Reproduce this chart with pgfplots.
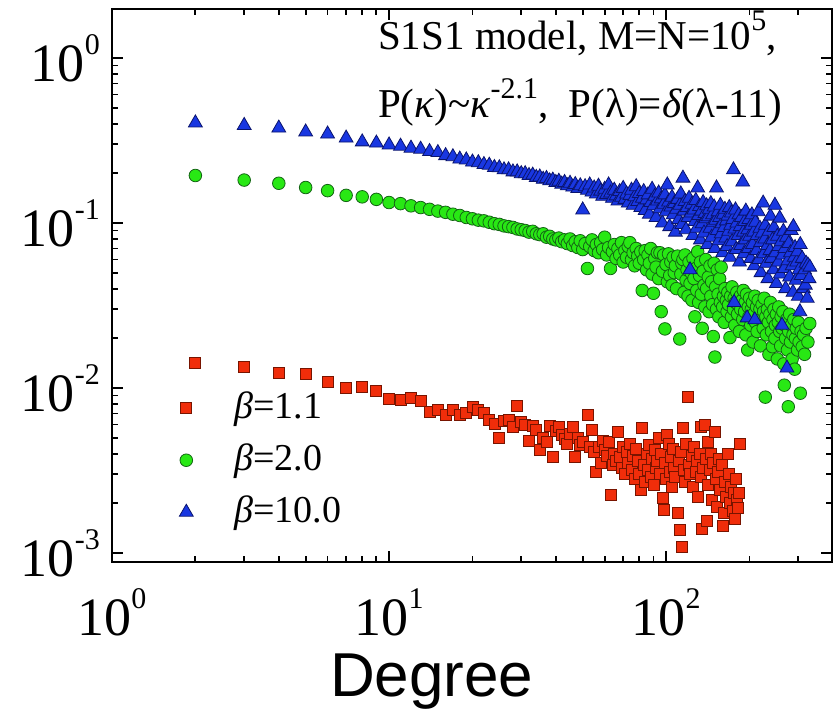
\documentclass[border=0pt]{standalone}
\usepackage{fontspec}
\setmainfont{Liberation Serif}
\newfontfamily\arialfont{Liberation Sans}
\usepackage{pgfplots}
\usepackage{pgfplotstable}
\pgfplotsset{compat=1.18}
\definecolor{rfill}{RGB}{240,45,10}
\definecolor{redge}{RGB}{120,20,0}
\definecolor{gfill}{RGB}{40,232,20}
\definecolor{gedge}{RGB}{20,100,20}
\definecolor{bfill}{RGB}{25,55,225}
\definecolor{bedge}{RGB}{10,20,110}
\newcommand{\tl}[1]{\mbox{\fontsize{54}{60}\selectfont 10\raisebox{27pt}{\fontsize{30}{30}\selectfont #1}}}

\pgfplotstableread{
k v
2 0.0142
3 0.0134
4 0.0123
5 0.0122
6 0.0109
7 0.0100
8 0.0101
9 0.0096
10 0.0086
11 0.0085
12 0.0087
13 0.0083
14 0.0072
15 0.0074
16 0.0069
17 0.0074
18 0.0069
19 0.0071
20 0.0077
21 0.0074
22 0.0071
23 0.0064
24 0.0061
25 0.0050
26 0.0063
27 0.0064
28 0.0058
29 0.0078
30 0.0062
31 0.0060
32 0.0048
33 0.0059
34 0.0056
35 0.0042
36 0.0050
37 0.0047
38 0.0059
39 0.0038
40 0.0055
41 0.0058
42 0.0052
43 0.0049
44 0.0046
45 0.0053
46 0.0058
47 0.0038
48 0.0050
49 0.0045
50 0.0047
52 0.0069
53 0.0044
54 0.0056
55 0.0041
56 0.0031
57 0.0044
58 0.0035
59 0.0048
60 0.0042
61 0.0039
62 0.0047
63 0.00225
64 0.0034
65 0.0040
66 0.0036
67 0.0054
68 0.0038
69 0.0033
70 0.0044
71 0.0030
72 0.0041
73 0.0035
74 0.0046
75 0.0032
76 0.0039
77 0.0028
78 0.0043
79 0.0036
80 0.0030
81 0.0024
82 0.0057
83 0.0034
84 0.0027
85 0.0040
86 0.0032
87 0.0045
88 0.0029
89 0.0037
90 0.0026
91 0.0042
92 0.0033
93 0.0036
94 0.0050
95 0.0030
96 0.0040
97 0.00217
98 0.00182
99 0.0035
100 0.0028
101 0.0052
102 0.0046
103 0.0031
104 0.0038
105 0.0025
106 0.0043
107 0.0033
108 0.0029
110 0.00175
111 0.0036
112 0.00138
113 0.0041
114 0.00109
115 0.0057
116 0.0032
117 0.0027
118 0.0046
120 0.0088
121 0.0034
122 0.0030
124 0.0039
125 0.0025
126 0.0044
128 0.0031
129 0.0036
130 0.0022
132 0.0040
133 0.0058
134 0.0029
135 0.0014
136 0.0033
138 0.0060
139 0.0037
140 0.00157
141 0.0047
142 0.0026
144 0.0032
145 0.0040
146 0.0021
148 0.0035
150 0.0054
151 0.0028
152 0.0019
154 0.0031
155 0.0037
157 0.0024
159 0.0034
160 0.00146
161 0.00175
163 0.0027
165 0.0022
167 0.0040
168 0.0030
170 0.0020
172 0.0025
174 0.0018
175 0.0023
177 0.00162
178 0.0028
180 0.0021
182 0.00188
183 0.0023
185 0.0046
}\redtab

\pgfplotstableread{
k v
2 0.194
3 0.182
4 0.174
5 0.164
6 0.157
7 0.147
8 0.144
9 0.139
10 0.133
11 0.131
12 0.127
13 0.124
14 0.121
15 0.118
16 0.116
17 0.113
18 0.111
19 0.108
20 0.106
21 0.104
22 0.103
23 0.101
24 0.099
25 0.098
26 0.096
27 0.095
28 0.094
29 0.092
30 0.091
31 0.090
32 0.088
33 0.089
34 0.086
35 0.085
36 0.086
37 0.082
38 0.083
39 0.080
40 0.079
41 0.081
42 0.077
43 0.079
44 0.075
45 0.080
46 0.073
47 0.077
48 0.071
49 0.078
50 0.069
51 0.075
52 0.053
53 0.072
54 0.079
55 0.068
56 0.074
57 0.066
58 0.076
59 0.069
60 0.082
61 0.064
62 0.071
63 0.053
64 0.067
65 0.074
66 0.061
67 0.070
68 0.064
69 0.076
70 0.058
71 0.068
72 0.062
73 0.072
74 0.076
75 0.060
76 0.066
77 0.055
78 0.070
79 0.063
80 0.057
81 0.067
82 0.039
83 0.060
84 0.068
85 0.052
86 0.064
87 0.057
88 0.070
89 0.049
90 0.0375
91 0.061
92 0.054
93 0.066
94 0.046
95 0.066
96 0.029
97 0.051
98 0.064
99 0.0228
100 0.056
101 0.044
102 0.065
103 0.048
104 0.058
105 0.042
106 0.062
107 0.050
108 0.055
109 0.040
110 0.063
112 0.0198
113 0.049
114 0.057
115 0.060
116 0.038
117 0.064
118 0.045
119 0.052
120 0.036
121 0.058
122 0.043
123 0.050
124 0.034
125 0.061
126 0.046
127 0.027
128 0.053
129 0.039
130 0.067
131 0.033
132 0.048
133 0.058
134 0.037
135 0.023
136 0.051
137 0.042
138 0.031
139 0.060
140 0.040
142 0.047
143 0.029
144 0.055
145 0.036
146 0.044
147 0.032
148 0.0205
149 0.057
150 0.0154
151 0.041
152 0.030
153 0.052
154 0.037
155 0.027
156 0.046
157 0.033
158 0.054
160 0.031
161 0.036
162 0.025
163 0.040
165 0.034
166 0.029
167 0.038
168 0.032
170 0.0202
171 0.036
172 0.027
173 0.041
175 0.030
176 0.035
177 0.024
178 0.033
180 0.038
181 0.028
182 0.032
184 0.022
185 0.036
186 0.030
188 0.034
189 0.026
190 0.039
192 0.029
193 0.033
194 0.021
195 0.037
197 0.017
198 0.031
199 0.027
200 0.035
202 0.024
203 0.030
205 0.033
206 0.019
207 0.028
209 0.036
210 0.025
212 0.031
213 0.022
215 0.034
216 0.027
218 0.030
219 0.018
220 0.026
222 0.032
224 0.023
225 0.029
226 0.035
228 0.0088
229 0.027
230 0.021
232 0.030
234 0.025
235 0.016
237 0.028
238 0.033
240 0.022
242 0.0178
243 0.026
245 0.030
247 0.020
248 0.024
250 0.028
252 0.015
254 0.025
255 0.031
257 0.022
259 0.018
260 0.027
262 0.023
264 0.029
266 0.014
267 0.0104
268 0.024
270 0.020
272 0.026
274 0.017
276 0.0077
277 0.022
279 0.028
281 0.019
283 0.024
285 0.015
287 0.021
289 0.026
291 0.013
293 0.020
295 0.023
298 0.017
300 0.025
302 0.019
305 0.0093
307 0.022
310 0.0178
313 0.021
316 0.016
320 0.023
325 0.019
330 0.0246
}\greentab

\pgfplotstableread{
k v
2 0.404
3 0.390
4 0.376
5 0.356
6 0.346
7 0.327
8 0.310
9 0.305
10 0.297
11 0.292
12 0.284
13 0.280
14 0.271
15 0.267
16 0.256
17 0.252
18 0.244
19 0.241
20 0.234
21 0.232
22 0.226
23 0.224
24 0.217
25 0.216
26 0.210
27 0.210
28 0.204
29 0.204
30 0.199
31 0.199
32 0.194
33 0.195
34 0.189
35 0.190
36 0.184
37 0.186
38 0.180
39 0.182
40 0.176
41 0.179
42 0.172
43 0.176
44 0.168
45 0.174
46 0.165
47 0.171
48 0.162
49 0.168
50 0.120
51 0.166
52 0.158
53 0.170
54 0.154
55 0.163
56 0.150
57 0.167
58 0.156
59 0.145
60 0.160
61 0.149
62 0.170
63 0.152
64 0.141
65 0.158
66 0.146
67 0.136
68 0.155
69 0.143
70 0.162
71 0.139
72 0.150
73 0.132
74 0.147
75 0.158
76 0.128
77 0.144
78 0.166
79 0.135
80 0.151
81 0.124
82 0.141
83 0.155
84 0.119
85 0.138
86 0.148
87 0.113
88 0.133
89 0.160
90 0.127
91 0.145
92 0.108
93 0.136
94 0.152
95 0.122
96 0.140
97 0.100
98 0.130
99 0.148
100 0.117
101 0.170
102 0.134
103 0.095
104 0.125
105 0.143
106 0.112
107 0.131
108 0.088
109 0.121
110 0.139
111 0.105
112 0.128
113 0.150
114 0.098
115 0.187
116 0.118
117 0.135
118 0.091
119 0.124
120 0.108
121 0.141
122 0.052
123 0.115
124 0.130
125 0.084
126 0.120
127 0.102
128 0.137
129 0.093
130 0.163
131 0.111
132 0.126
133 0.079
134 0.118
135 0.099
136 0.133
137 0.087
138 0.114
139 0.106
140 0.127
141 0.074
142 0.109
143 0.121
144 0.093
145 0.131
146 0.082
147 0.112
148 0.101
149 0.125
150 0.070
151 0.104
152 0.163
153 0.090
154 0.117
155 0.078
156 0.108
157 0.128
158 0.086
159 0.099
160 0.066
161 0.113
162 0.094
163 0.121
164 0.081
165 0.103
166 0.072
167 0.110
168 0.089
169 0.124
170 0.062
171 0.097
172 0.115
173 0.077
174 0.105
175 0.210
176 0.033
177 0.092
178 0.120
179 0.069
180 0.100
182 0.084
183 0.112
184 0.058
185 0.095
186 0.073
187 0.108
189 0.177
190 0.088
191 0.065
192 0.102
193 0.079
194 0.118
196 0.0266
197 0.091
198 0.070
199 0.105
200 0.083
202 0.061
203 0.097
204 0.112
205 0.074
207 0.088
208 0.055
209 0.0259
210 0.101
212 0.068
213 0.084
215 0.117
216 0.060
218 0.093
219 0.076
220 0.050
222 0.087
224 0.132
225 0.065
227 0.080
228 0.097
230 0.057
232 0.073
233 0.046
235 0.089
237 0.068
238 0.110
240 0.061
242 0.079
244 0.052
245 0.094
247 0.128
248 0.066
250 0.043
252 0.083
254 0.058
255 0.072
257 0.107
258 0.049
260 0.077
262 0.024
263 0.064
265 0.089
267 0.053
268 0.070
270 0.040
272 0.082
273 0.0132
275 0.059
277 0.075
279 0.047
281 0.066
283 0.090
285 0.055
287 0.038
288 0.095
290 0.062
292 0.071
294 0.045
296 0.058
298 0.067
300 0.036
302 0.052
304 0.029
305 0.074
307 0.048
310 0.061
313 0.040
316 0.052
318 0.042
320 0.057
323 0.035
325 0.0556
328 0.046
330 0.054
}\bluetab

\begin{document}
\begin{tikzpicture}
\path[use as bounding box] (-112pt,-150pt) rectangle (726pt,562pt);
\begin{axis}[
  scale only axis, width=720pt, height=553pt,
  xmode=log, ymode=log,
  xmin=1, xmax=397, ymin=8.82e-4, ymax=1.98,
  xtick={1,10,100}, xticklabels={\tl{0},\tl{1},\tl{2}},
  ytick={0.001,0.01,0.1,1}, yticklabels={\tl{-3},\tl{-2},\tl{-1},\tl{0}},
  minor xtick={2,3,4,5,6,7,8,9,20,30,40,50,60,70,80,90,200,300},
  minor ytick={0.002,0.003,0.004,0.005,0.006,0.007,0.008,0.009,0.02,0.03,0.04,0.05,0.06,0.07,0.08,0.09,0.2,0.3,0.4,0.5,0.6,0.7,0.8,0.9},
  tick align=inside,
  major tick length=11pt, minor tick length=6pt,
  every tick/.append style={line width=1.8pt, black},
  axis line style={line width=2.6pt},
  tick label style={font=\fontsize{54}{60}\selectfont},
  xticklabel style={anchor=base, inner sep=0pt, yshift=-73pt},
  yticklabel style={anchor=east, inner sep=0pt, xshift=-12pt},
  xlabel={Degree},
  xlabel style={font=\arialfont\fontsize{62}{62}\selectfont, at={(axis description cs:0.444,-0.244)}, anchor=base},
  legend style={at={(0.0933,0.3146)}, anchor=north west, draw=none, fill=none, inner sep=0pt,
    font=\fontsize{38}{40}\selectfont, row sep=12pt,
    nodes={inner sep=0pt, text height=30pt, text depth=10pt},
    /tikz/every odd column/.append style={column sep=41pt}},
  legend cell align=left,
]
\addplot[only marks, mark=square*, mark size=5.5pt, draw=redge, fill=rfill, mark options={line width=0.8pt}] table[x=k,y=v] {\redtab};
\addlegendentry{\textit{β}=1.1}
\addplot[only marks, mark=*, mark size=6.3pt, draw=gedge, fill=gfill, mark options={line width=0.8pt}] table[x=k,y=v] {\greentab};
\addlegendentry{\textit{β}=2.0}
\addplot[only marks, mark=triangle*, mark size=8pt, draw=bedge, fill=bfill, mark options={line width=0.8pt}] table[x=k,y=v] {\bluetab};
\addlegendentry{\textit{β}=10.0}
\node[anchor=base west, inner sep=0pt, font=\fontsize{41}{49}\selectfont] at (rel axis cs:0.3694,0.9259) {S1S1 model, M=N=10\raisebox{19pt}{\fontsize{30}{30}\selectfont 5},};
\node[anchor=base west, inner sep=0pt, font=\fontsize{41}{49}\selectfont] at (rel axis cs:0.3694,0.8047) {P(\textit{κ})\textasciitilde\textit{κ}\raisebox{19pt}{\fontsize{30}{30}\selectfont -2.1},\ \ P(λ)=\textit{δ}(λ-11)};
\end{axis}
\end{tikzpicture}
\end{document}
